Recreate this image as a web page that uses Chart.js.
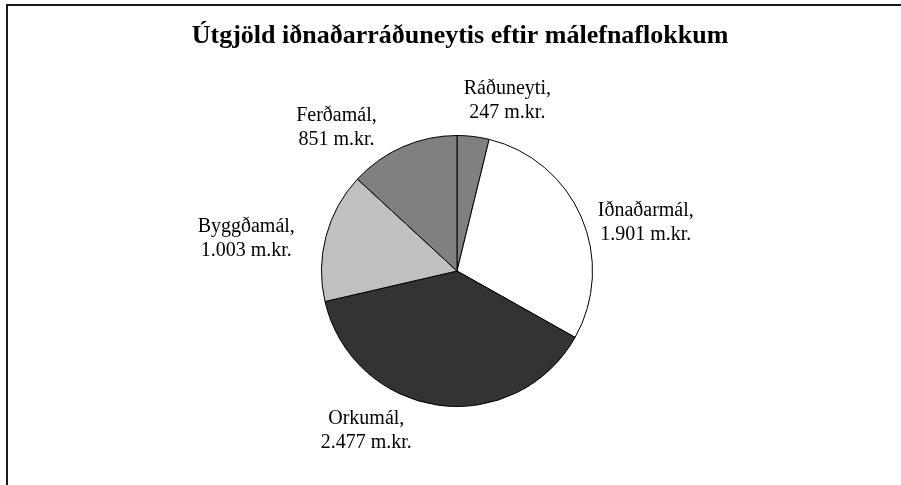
<!DOCTYPE html>
<html>
<head>
<meta charset="utf-8">
<script src="https://cdn.jsdelivr.net/npm/chart.js@4"></script>
<style>
  html, body { margin: 0; padding: 0; background: #fff; }
  #wrap { position: relative; width: 901px; height: 485px; }
</style>
</head>
<body>
<div id="wrap"><canvas id="chart" width="901" height="485"></canvas></div>
<script>
// gögn
const categories = ['Ráðuneyti', 'Iðnaðarmál', 'Orkumál', 'Byggðamál', 'Ferðamál'];
const values = [247, 1901, 2477, 1003, 851];
const unit = 'm.kr.';
const chartTitle = 'Útgjöld iðnaðarráðuneytis eftir málefnaflokkum';

// útlit
const sliceColors = ['#808080', '#ffffff', '#333333', '#c0c0c0', '#808080'];
const labelShift = [9.6, 9.1, 21.4, -6.25, -16.4];   // gráður frá miðju sneiðar
const labelDist = [1.311, 1.438, 1.357, 1.573, 1.383]; // sinnum radíus

function fmt(n) {
    return String(n).replace(/\B(?=(\d{3})+(?!\d))/g, '.');
}

const decor = {
    id: 'decor',
    afterDraw(chart) {
        const ctx = chart.ctx;
        ctx.save();
        // rammi
        ctx.strokeStyle = '#1a1a1a';
        ctx.lineWidth = 2;
        ctx.beginPath();
        ctx.moveTo(7, 485);
        ctx.lineTo(7, 5);
        ctx.lineTo(901, 5);
        ctx.stroke();

        // titill
        ctx.fillStyle = '#000';
        ctx.textAlign = 'center';
        ctx.textBaseline = 'alphabetic';
        ctx.font = 'bold 26px "Liberation Serif", "Times New Roman", serif';
        ctx.fillText(chartTitle, 460, 43);

        // merkingar
        ctx.font = '20px "Liberation Serif", "Times New Roman", serif';
        ctx.textBaseline = 'middle';
        const meta = chart.getDatasetMeta(0);
        meta.data.forEach((arc, i) => {
            const mid = (arc.startAngle + arc.endAngle) / 2 + labelShift[i] * Math.PI / 180;
            const r = arc.outerRadius * labelDist[i];
            const x = arc.x + Math.cos(mid) * r;
            const y = arc.y + Math.sin(mid) * r;
            ctx.fillText(categories[i] + ',', x, y - 12);
            ctx.fillText(fmt(values[i]) + ' ' + unit, x, y + 12);
        });
        ctx.restore();
    }
};

new Chart(document.getElementById('chart'), {
    type: 'pie',
    data: {
        labels: categories,
        datasets: [{
            data: values,
            backgroundColor: sliceColors,
            borderColor: '#000',
            borderWidth: 1
        }]
    },
    options: {
        responsive: false,
        animation: false,
        layout: { padding: { left: 321, right: 308, top: 135, bottom: 78 } },
        plugins: {
            legend: { display: false },
            tooltip: { enabled: false },
            title: { display: false }
        }
    },
    plugins: [decor]
});
</script>
</body>
</html>
